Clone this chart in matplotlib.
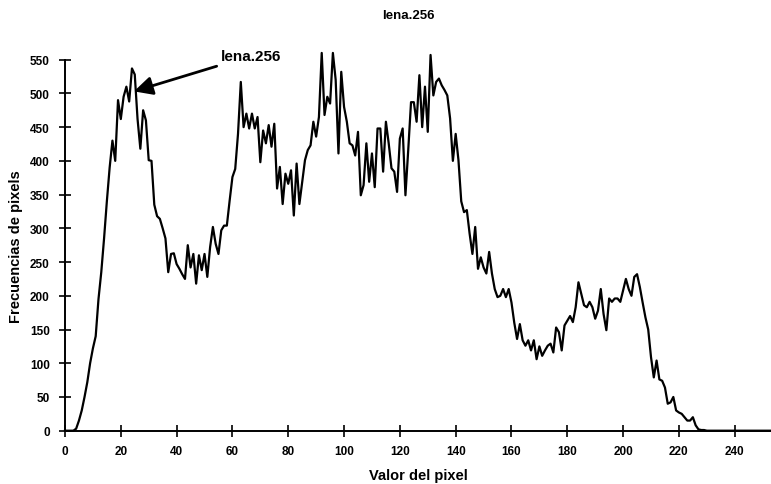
import numpy as np
import matplotlib.pyplot as plt

plt.rcParams['font.family'] = ['Liberation Sans', 'DejaVu Sans']
plt.rcParams['font.weight'] = 'bold'

# pixel value histogram of lena.256
valor_pixel = np.arange(256)
frecuencias = [
    0, 0, 0, 0, 3, 15, 30, 50, 72, 100, 122, 140, 195, 235, 285, 340,
    390, 430, 400, 490, 462, 495, 510, 488, 537, 528, 462, 418, 475, 460, 401, 400,
    335, 318, 314, 300, 285, 235, 262, 263, 247, 240, 232, 225, 275, 242, 262, 218,
    260, 238, 262, 228, 272, 302, 277, 262, 297, 304, 304, 341, 376, 388, 440, 517,
    450, 470, 448, 470, 448, 465, 398, 445, 426, 453, 421, 455, 359, 391, 336, 381,
    366, 386, 319, 396, 336, 369, 401, 416, 423, 458, 436, 465, 560, 468, 495, 485,
    560, 520, 411, 532, 480, 458, 426, 423, 408, 443, 349, 364, 426, 369, 411, 361,
    448, 448, 384, 458, 426, 389, 384, 354, 433, 448, 349, 416, 487, 487, 458, 527,
    450, 510, 443, 557, 497, 517, 522, 512, 505, 497, 463, 400, 440, 401, 340, 324,
    327, 292, 262, 302, 240, 257, 242, 233, 265, 233, 210, 198, 200, 210, 198, 210,
    190, 160, 136, 158, 134, 126, 134, 119, 134, 106, 125, 111, 119, 126, 129, 116,
    153, 146, 119, 156, 163, 170, 161, 183, 220, 203, 186, 183, 191, 183, 166, 178,
    210, 173, 149, 196, 191, 196, 196, 191, 208, 225, 210, 200, 228, 232, 213, 190,
    168, 150, 109, 79, 104, 76, 74, 64, 40, 42, 50, 30, 27, 25, 20, 15,
    15, 20, 8, 2, 1, 1, 0, 0, 0, 0, 0, 0, 0, 0, 0, 0,
    0, 0, 0, 0, 0, 0, 0, 0, 0, 0, 0, 0, 0, 0, 0, 0,
]
x_ticks = [0, 20, 40, 60, 80, 100, 120, 140, 160, 180, 200, 220, 240]
y_ticks = [0, 50, 100, 150, 200, 250, 300, 350, 400, 450, 500, 550]

fig = plt.figure(figsize=(7.71, 4.85), dpi=100)
ax = fig.add_axes([0.0843, 0.1099, 0.9157, 0.765])

ax.plot(valor_pixel, frecuencias, color='black', lw=1.6, clip_on=False)

ax.set_xlim(0, 253)
ax.set_ylim(0, 550)
ax.set_xticks(x_ticks)
ax.set_yticks(y_ticks)

for side in ['top', 'right']:
    ax.spines[side].set_visible(False)
for side in ['left', 'bottom']:
    ax.spines[side].set_linewidth(1.4)

ax.tick_params(axis='y', direction='inout', length=8, width=1.2, pad=7, labelsize=8.5)
ax.tick_params(axis='x', direction='inout', length=9, width=1.2, pad=6, labelsize=8.5)
for lab in ax.get_xticklabels() + ax.get_yticklabels():
    lab.set_fontweight('bold')

ax.set_xlabel('Valor del pixel', fontsize=10.5, fontweight='bold', labelpad=8)
ax.set_ylabel('Frecuencias de pixels', fontsize=10.5, fontweight='bold', labelpad=5)

fig.text(0.53, 0.968, 'lena.256', ha='center', va='center', fontsize=9.5, fontweight='bold')

ax.annotate('lena.256', xy=(24.7, 503), xytext=(56, 556),
            fontsize=11, fontweight='bold', ha='left', va='center',
            arrowprops=dict(arrowstyle='-|>', color='black', lw=2,
                            mutation_scale=28, shrinkA=2, shrinkB=0),
            annotation_clip=False)

plt.savefig('out.png', dpi=100)
